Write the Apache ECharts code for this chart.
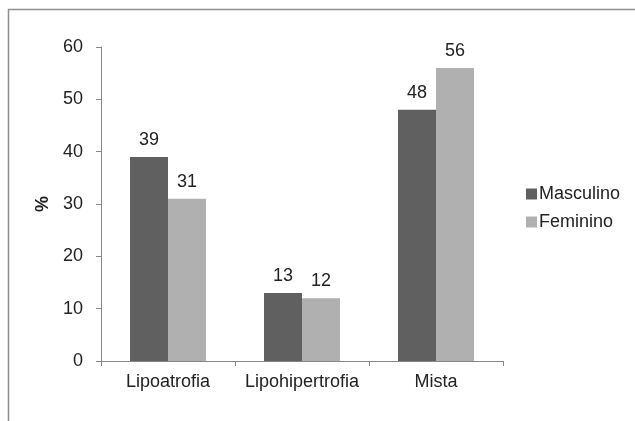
<!DOCTYPE html>
<html>
<head>
<meta charset="utf-8">
<script src="https://cdn.jsdelivr.net/npm/echarts@6/dist/echarts.min.js"></script>
<style>html,body{margin:0;padding:0;background:#fff}#c{width:635px;height:421px}</style>
</head>
<body>
<div id="c"></div>
<script>
const categories = ['Lipoatrofia', 'Lipohipertrofia', 'Mista'];
const seriesNames = ['Masculino', 'Feminino'];
const masculino = [39, 13, 48];
const feminino = [31, 12, 56];
const yTicks = [0, 10, 20, 30, 40, 50, 60];

const font = 'Liberation Sans, Arial, sans-serif';
const chart = echarts.init(document.getElementById('c'));
chart.setOption({
  animation: false,
  backgroundColor: '#fff',
  graphic: [{
    type: 'rect', silent: true,
    shape: { x: 8.5, y: 9.5, width: 700, height: 500 },
    style: { fill: 'none', stroke: '#8f8f8f', lineWidth: 1.5 }
  }],
  grid: { left: 101, top: 47, width: 402, height: 314 },
  legend: {
    orient: 'vertical', left: 521, top: 180,
    itemWidth: 11, itemHeight: 11, itemGap: 10,
    icon: 'rect',
    textStyle: { fontFamily: font, fontSize: 18, color: '#222', padding: [0, 0, 0, -3] },
    data: seriesNames
  },
  xAxis: {
    type: 'category', data: categories,
    axisLine: { lineStyle: { color: '#868686', width: 1 } },
    axisTick: { show: true, length: 5, alignWithLabel: false, lineStyle: { color: '#868686' } },
    axisLabel: { interval: 0, fontFamily: font, fontSize: 18, color: '#222', margin: 12 }
  },
  yAxis: {
    type: 'value', min: yTicks[0], max: yTicks[yTicks.length - 1], interval: 10,
    name: '%', nameLocation: 'middle', nameRotate: 90, nameGap: 48,
    nameTextStyle: { fontFamily: font, fontSize: 18, fontWeight: 'bold', color: '#222' },
    axisLine: { show: true, lineStyle: { color: '#868686', width: 1 } },
    axisTick: { show: true, length: 5, lineStyle: { color: '#868686' } },
    splitLine: { show: false },
    axisLabel: { fontFamily: font, fontSize: 18, color: '#222', margin: 18 }
  },
  series: [
    {
      name: seriesNames[0], type: 'bar', data: masculino,
      barWidth: 38, barGap: '0%',
      itemStyle: { color: '#606060' },
      label: { show: true, position: 'top', distance: 8, fontFamily: font, fontSize: 18, color: '#222' }
    },
    {
      name: seriesNames[1], type: 'bar', data: feminino,
      barWidth: 38, barGap: '0%',
      itemStyle: { color: '#b0b0b0' },
      label: { show: true, position: 'top', distance: 8, fontFamily: font, fontSize: 18, color: '#222' }
    }
  ]
});
</script>
</body>
</html>
